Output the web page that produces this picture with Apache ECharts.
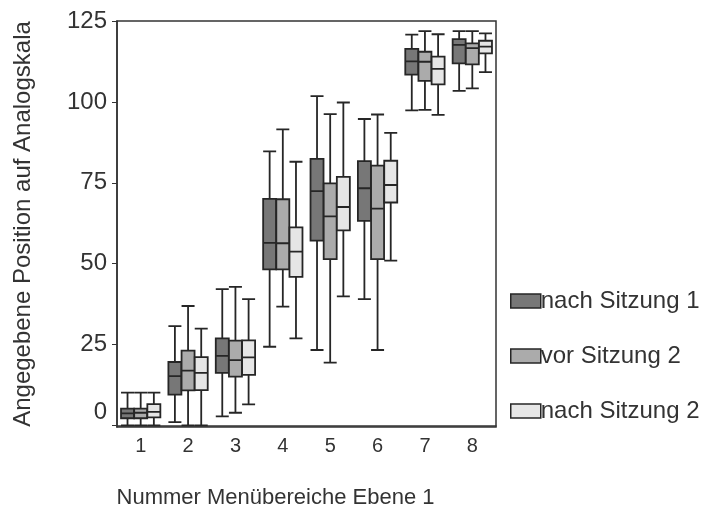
<!DOCTYPE html>
<html>
<head>
<meta charset="utf-8">
<script src="https://cdn.jsdelivr.net/npm/echarts@6/dist/echarts.min.js"></script>
<style>
html,body{margin:0;padding:0;background:#fff;}
#chart{width:701px;height:516px;}
</style>
</head>
<body>
<div id="chart"></div>
<script>
// Categories (menu area numbers)
const categories = ['1', '2', '3', '4', '5', '6', '7', '8'];
const seriesNames = ['nach Sitzung 1', 'vor Sitzung 2', 'nach Sitzung 2'];
const yTicks = [0, 25, 50, 75, 100, 125];

// Each row: [min, Q1, median, Q3, max]
const nachSitzung1 = [
  [0, 2.2, 3.7, 5.2, 10.1],
  [1, 9.5, 15.2, 19.6, 30.7],
  [2.8, 16.2, 21.5, 26.9, 42.1],
  [24.3, 48.2, 56.4, 70, 84.7],
  [23.3, 57.1, 72.4, 82.4, 101.8],
  [39, 63.2, 73.3, 81.7, 94.7],
  [97.4, 108.4, 112.5, 116.4, 120.8],
  [103.4, 111.9, 117.6, 119.4, 121.9]
];
const vorSitzung2 = [
  [0, 2.2, 3.9, 5.2, 10.1],
  [0, 10.8, 16.9, 23.1, 36.9],
  [3.9, 15.1, 20.2, 26.2, 42.8],
  [36.7, 48.2, 56.3, 69.9, 91.5],
  [19.4, 51.4, 64.6, 74.8, 96.2],
  [23.3, 51.4, 67, 80.3, 96.1],
  [97.5, 106.5, 112.4, 115.5, 121.9],
  [104.2, 111.6, 116.6, 118.1, 121.9]
];
const nachSitzung2 = [
  [0, 2.5, 4.2, 6.6, 10.1],
  [0, 10.9, 16.2, 21.1, 29.9],
  [6.5, 15.6, 21, 26.3, 39],
  [26.9, 45.9, 53.7, 61.2, 81.5],
  [39.9, 60.3, 67.5, 76.8, 99.8],
  [50.9, 68.9, 74.3, 81.8, 90.4],
  [96, 105.4, 110.2, 114, 120.9],
  [109.2, 115, 117.1, 118.9, 121.2]
];

const fills = ['#777777', '#ababab', '#e6e6e6'];
const dataSets = [nachSitzung1, vorSitzung2, nachSitzung2];
const edge = '#262626';

const chart = echarts.init(document.getElementById('chart'), null, {renderer: 'canvas'});

const series = seriesNames.map((name, i) => ({
  name: name,
  type: 'boxplot',
  boxWidth: [13, 13],
  data: dataSets[i],
  itemStyle: {color: fills[i], borderColor: edge, borderWidth: 1.8},
  emphasis: {disabled: true}
}));

chart.setOption({
  animation: false,
  backgroundColor: '#ffffff',
  textStyle: {fontFamily: 'Liberation Sans, Arial, sans-serif'},
  grid: {left: 117, right: 205, top: 21, bottom: 89, show: true, borderColor: '#333', borderWidth: 1.5, containLabel: false},
  legend: {
    orient: 'vertical',
    left: 505,
    top: 284,
    itemGap: 31,
    itemWidth: 30,
    itemHeight: 14,
    icon: 'rect',
    data: seriesNames.map((n, i) => ({
      name: n,
      itemStyle: {color: fills[i], borderColor: edge, borderWidth: 1.5}
    })),
    textStyle: {fontSize: 24, color: '#333', padding: [0, 0, 0, -5]}
  },
  xAxis: {
    type: 'category',
    data: categories,
    boundaryGap: true,
    name: 'Nummer Menübereiche Ebene 1',
    nameLocation: 'middle',
    nameGap: 60,
    nameTextStyle: {fontSize: 22, color: '#333', padding: [0, 62, 0, 0]},
    axisLine: {lineStyle: {color: '#333', width: 1.5}},
    axisTick: {alignWithLabel: true, length: 5, lineStyle: {color: '#333'}},
    axisLabel: {fontSize: 20, color: '#333', margin: 9},
    splitLine: {show: false}
  },
  yAxis: {
    type: 'value',
    min: -0.5,
    max: 125,
    name: 'Angegebene Position auf Analogskala',
    nameLocation: 'middle',
    nameGap: 82,
    nameTextStyle: {fontSize: 24, color: '#333'},
    axisLine: {show: true, lineStyle: {color: '#333', width: 1.5}},
    axisTick: {show: true, length: 5, customValues: yTicks, lineStyle: {color: '#333'}},
    axisLabel: {
      fontSize: 24, color: '#333', margin: 10, customValues: yTicks,
      formatter: function (v) { return v === 0 ? '{z|0}' : String(v); },
      rich: {z: {fontSize: 24, color: '#333', padding: [0, 0, 26, 0]}}
    },
    splitLine: {show: false}
  },
  series: series
});
</script>
</body>
</html>
